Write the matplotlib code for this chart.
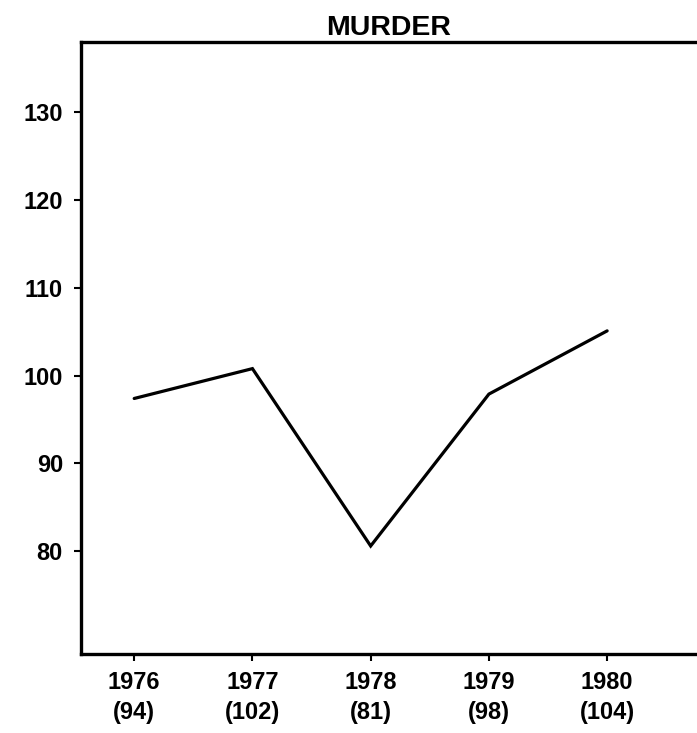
import matplotlib
matplotlib.use('Agg')
import matplotlib.pyplot as plt

plt.rcParams['font.family'] = ['Liberation Sans', 'DejaVu Sans']
plt.rcParams['font.weight'] = 'bold'

# values
years = [1976, 1977, 1978, 1979, 1980]
counts = ['94', '102', '81', '98', '104']
index_values = [97.4, 100.8, 80.6, 97.9, 105.1]
y_ticks = [80, 90, 100, 110, 120, 130]

fig = plt.figure(figsize=(6.97, 7.33), dpi=100)
ax = fig.add_axes([0.1162, 0.1078, 0.8838, 0.8349])

ax.plot(years, index_values, color='black', lw=2.3, solid_capstyle='round', solid_joinstyle='miter')

ax.set_xlim(1975.55, 1980.76)
ax.set_ylim(68.3, 138.0)

ax.set_xticks(years)
ax.set_xticklabels(['{}\n({})'.format(y, c) for y, c in zip(years, counts)], linespacing=1.4)
ax.set_yticks(y_ticks)
ax.set_yticklabels([str(v) for v in y_ticks])

ax.tick_params(axis='both', labelsize=17, width=1.5, length=5, direction='out', color='black')
ax.tick_params(axis='x', pad=7)
ax.tick_params(axis='y', pad=8)
for lab in ax.get_xticklabels() + ax.get_yticklabels():
    lab.set_fontweight('bold')

for side in ['left', 'bottom', 'top']:
    ax.spines[side].set_linewidth(2.4)
ax.spines['right'].set_visible(False)

ax.set_title('MURDER', fontsize=20.5, fontweight='bold', pad=5)

fig.savefig('out.png', dpi=100)
